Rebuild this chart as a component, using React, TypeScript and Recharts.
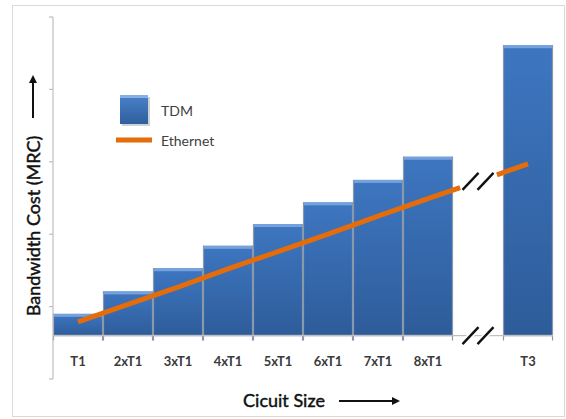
import React from 'react';
import {
  ComposedChart,
  Bar,
  Line,
  XAxis,
  YAxis,
  Legend,
  ReferenceLine,
  ReferenceDot,
} from 'recharts';

// Circuit sizes; the blank entry is the spacer slot for the axis break before T3
const categories = ['T1', '2xT1', '3xT1', '4xT1', '5xT1', '6xT1', '7xT1', '8xT1', ' ', 'T3'];
// Monthly recurring cost of TDM circuits (relative units)
const tdmCost = [30, 61, 93, 124, 154, 184, 215, 247, null, 401];
// Monthly recurring cost of Ethernet at the same bandwidth (relative units)
const ethernetCost = [19, 43, 67, 92, 116, 140, 165, 189, null, 237];
// Value-axis gridline stops (labels are not shown)
const yTicks = [-60, 40, 140, 240, 340, 440];
// Legend order
const legendOrder = ['tdm', 'ethernet'];

const data = categories.map((name, i) => ({
  name,
  tdm: tdmCost[i],
  ethernet: ethernetCost[i],
}));

const FONT = 'Lato, "Liberation Sans", Arial, sans-serif';
const ORANGE = '#E46C0A';
const EDGE = '#8A98AC';

// Midpoint of the Ethernet line across the break slot
const breakLevel = (ethernetCost[7]! + ethernetCost[9]!) / 2;

const TdmBar = (props: any) => {
  const { x, y, width, height } = props;
  if (height == null || height <= 0) return null;
  const base = y + height;
  return (
    <g>
      <rect x={x} y={y} width={width} height={height} fill="url(#tdmFill)" />
      <rect x={x} y={y} width={width} height={3} fill="#7FAAE2" opacity={0.85} />
      <line x1={x + 0.5} y1={y} x2={x + 0.5} y2={base + 5} stroke={EDGE} strokeWidth={1.2} />
      <line x1={x + width - 0.5} y1={y} x2={x + width - 0.5} y2={base + 5} stroke={EDGE} strokeWidth={1.2} />
      <line x1={x} y1={base} x2={x + width} y2={base} stroke="#9AA5B5" strokeWidth={1.5} />
    </g>
  );
};

const BreakMark = (props: any) => {
  const { cx, cy } = props;
  const slash = (dx: number, key: string) => {
    const mx = cx + dx;
    return (
      <g key={key}>
        <line x1={mx - 8} y1={cy + 8.5} x2={mx + 8} y2={cy - 8.5} stroke="#fff" strokeWidth={6} />
        <line x1={mx - 8} y1={cy + 8.5} x2={mx + 8} y2={cy - 8.5} stroke="#111" strokeWidth={2.4} />
      </g>
    );
  };
  return <g>{[slash(-7.5, 'a'), slash(7.5, 'b')]}</g>;
};

const EmptyTick = () => <g />;

const CategoryTick = (props: any) => {
  const { x, y, payload } = props;
  return (
    <text
      x={x}
      y={y - 18}
      textAnchor="middle"
      dominantBaseline="central"
      fontFamily={FONT}
      fontSize={13}
      fontWeight={700}
      fill="#3a3a3a"
    >
      {payload.value}
    </text>
  );
};

const titleStyle = {
  fontFamily: FONT,
  fontSize: 18,
  fontWeight: 400,
  fill: '#111',
  stroke: '#111',
  strokeWidth: 0.45,
} as const;

const YTitle = (props: any) => {
  const vb = props.viewBox || { x: 0, y: 17, width: 53, height: 362 };
  const cx = vb.x + 33;
  const cy = vb.y + 209;
  const arrowBottom = vb.y + 101;
  const arrowTop = vb.y + 58;
  return (
    <g>
      <text
        x={cx}
        y={cy}
        transform={`rotate(-90 ${cx} ${cy})`}
        textAnchor="middle"
        dominantBaseline="central"
        style={titleStyle}
      >
        Bandwidth Cost (MRC)
      </text>
      <line x1={cx} y1={arrowBottom} x2={cx} y2={arrowTop + 6} stroke="#111" strokeWidth={2} />
      <polygon
        points={`${cx},${arrowTop} ${cx - 4},${arrowTop + 8} ${cx + 4},${arrowTop + 8}`}
        fill="#111"
      />
    </g>
  );
};

const XTitle = (props: any) => {
  const vb = props.viewBox || { x: 53, y: 379, width: 500, height: 40 };
  const tx = vb.x + 231;
  const ty = vb.y + 21;
  const ax1 = vb.x + 286;
  const ax2 = vb.x + 347;
  return (
    <g>
      <text x={tx} y={ty} textAnchor="middle" dominantBaseline="central" style={titleStyle}>
        Cicuit Size
      </text>
      <line x1={ax1} y1={ty + 1} x2={ax2 - 6} y2={ty + 1} stroke="#111" strokeWidth={2} />
      <polygon points={`${ax2},${ty + 1} ${ax2 - 8},${ty - 3} ${ax2 - 8},${ty + 5}`} fill="#111" />
    </g>
  );
};

const LegendContent = (props: any) => {
  const items = [...((props.payload || []) as any[])].sort(
    (a, b) => legendOrder.indexOf(a.dataKey) - legendOrder.indexOf(b.dataKey)
  );
  return (
    <svg width={160} height={62} style={{ display: 'block' }}>
      <defs>
        <linearGradient id="tdmLegendFill" x1="0" y1="0" x2="0" y2="1">
          <stop offset="0%" stopColor="#4A82C9" />
          <stop offset="100%" stopColor="#2F5F9E" />
        </linearGradient>
      </defs>
      {items.map((item, i) => {
        const rowY = i === 0 ? 19 : 49;
        return (
          <g key={item.value}>
            {item.dataKey === 'tdm' ? (
              <g>
                <rect x={6} y={rowY - 13} width={28} height={29} fill="#9aa3ad" opacity={0.5} />
                <rect x={4} y={rowY - 15} width={28} height={29} fill="url(#tdmLegendFill)" />
                <rect x={4} y={rowY - 15} width={28} height={3} fill="#86B0E6" />
              </g>
            ) : (
              <line x1={0} y1={rowY} x2={36} y2={rowY} stroke={ORANGE} strokeWidth={5} />
            )}
            <text
              x={45}
              y={rowY}
              dominantBaseline="central"
              fontFamily={FONT}
              fontSize={14}
              fill="#404040"
            >
              {item.value}
            </text>
          </g>
        );
      })}
    </svg>
  );
};

export default function App() {
  return (
    <div style={{ position: 'absolute', left: 0, top: 0, width: 566, height: 419, background: '#fff' }}>
      <div
        style={{
          position: 'absolute',
          left: 12,
          top: 5,
          width: 553,
          height: 412,
          border: '1px solid #D9D9D9',
          boxSizing: 'border-box',
        }}
      />
      <ComposedChart
        width={566}
        height={419}
        data={data}
        margin={{ top: 17, right: 13, bottom: 0, left: 0 }}
        barCategoryGap={0}
        barGap={0}
      >
        <defs>
          <linearGradient id="tdmFill" x1="0" y1="0" x2="0" y2="1">
            <stop offset="0%" stopColor="#3D76C0" />
            <stop offset="100%" stopColor="#2E5C9A" />
          </linearGradient>
        </defs>
        <XAxis
          dataKey="name"
          interval={0}
          axisLine={false}
          tickLine={false}
          tickSize={0}
          tickMargin={0}
          height={40}
          tick={<CategoryTick />}
          label={{ content: (p: any) => <XTitle {...p} /> }}
        />
        <YAxis
          type="number"
          domain={[-60, 440]}
          ticks={yTicks}
          width={53}
          axisLine={{ stroke: '#BFBFBF', strokeWidth: 1.2 }}
          tickLine={{ stroke: '#BFBFBF', strokeWidth: 1.2 }}
          tickSize={4}
          tick={<EmptyTick />}
          label={{ content: (p: any) => <YTitle {...p} /> }}
        />
        <ReferenceLine y={0} stroke="#BFBFBF" strokeWidth={1.2} />
        <Bar
          dataKey="tdm"
          name="TDM"
          fill="#3A70B6"
          shape={<TdmBar />}
          isAnimationActive={false}
          legendType="square"
        />
        <Line
          dataKey="ethernet"
          name="Ethernet"
          type="linear"
          stroke={ORANGE}
          strokeWidth={5}
          strokeDasharray="405 39 100"
          connectNulls
          dot={false}
          activeDot={false}
          isAnimationActive={false}
        />
        <ReferenceDot x=" " y={breakLevel} r={0} shape={<BreakMark />} ifOverflow="visible" />
        <ReferenceDot x=" " y={0} r={0} shape={<BreakMark />} ifOverflow="visible" />
        <Legend
          layout="vertical"
          align="center"
          verticalAlign="middle"
          wrapperStyle={{ left: 116, top: 91, width: 160, height: 62 }}
          content={<LegendContent />}
        />
      </ComposedChart>
    </div>
  );
}
